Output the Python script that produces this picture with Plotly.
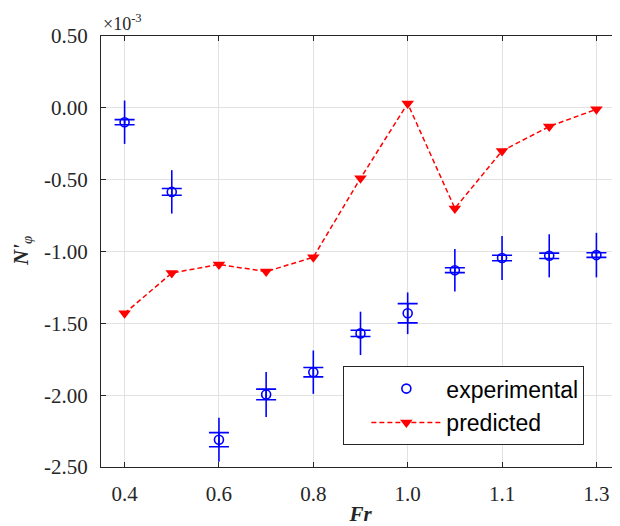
import plotly.graph_objects as go

# Data (N'_phi in units of 1e-3)
fr = ["0.4", "0.5", "0.6", "0.7", "0.8", "0.9", "1.0", "1.05", "1.1", "1.2", "1.3"]
exp_vals = [-0.10, -0.585, -2.31, -1.995, -1.84, -1.57, -1.43, -1.13, -1.045, -1.03, -1.025]
exp_err_small = [0.018, 0.023, 0.049, 0.037, 0.033, 0.022, 0.067, 0.017, 0.019, 0.019, 0.016]
exp_err_large = [0.151, 0.151, 0.153, 0.157, 0.151, 0.151, 0.145, 0.148, 0.153, 0.150, 0.155]
pred_vals = [-1.43, -1.15, -1.09, -1.14, -1.04, -0.49, 0.03, -0.70, -0.30, -0.13, -0.01]

x_tickvals = ["0.4", "0.6", "0.8", "1.0", "1.1", "1.3"]
y_tickvals = [-2.5, -2.0, -1.5, -1.0, -0.5, 0.0, 0.5]
y_ticktext = ["-2.50", "-2.00", "-1.50", "-1.00", "-0.50", "0.00", "0.50"]

BLUE = "rgb(0,0,255)"
RED = "rgb(255,0,0)"
AX = "rgb(38,38,38)"
SERIF = "Liberation Serif"

fig = go.Figure()

# large (uncapped) error bars
fig.add_trace(go.Scatter(
    x=fr, y=exp_vals, mode="markers",
    marker=dict(color="rgba(0,0,0,0)", size=1),
    error_y=dict(type="data", array=exp_err_large, symmetric=True,
                 color=BLUE, thickness=1.6, width=0),
    showlegend=False, hoverinfo="skip",
))

# experimental points with small capped error bars
fig.add_trace(go.Scatter(
    x=fr, y=exp_vals, mode="markers", name="experimental",
    legendgroup="a",
    marker=dict(symbol="circle-open", size=9, color=BLUE, line=dict(width=1.6, color=BLUE)),
    error_y=dict(type="data", array=exp_err_small, symmetric=True,
                 color=BLUE, thickness=1.6, width=10),
))

# predicted
fig.add_trace(go.Scatter(
    x=fr, y=pred_vals, mode="lines+markers", name="predicted",
    legendgroup="b",
    line=dict(color=RED, width=1.5, dash="5px,3px"),
    marker=dict(symbol="triangle-down", size=11, color=RED),
))

fig.update_layout(
    width=612, height=518,
    margin=dict(l=93, r=0, t=28, b=59, autoexpand=False),
    paper_bgcolor="white", plot_bgcolor="white",
    font=dict(family=SERIF, size=21, color=AX),
    showlegend=True,
    legend=dict(
        x=0.467, y=0.234, xanchor="left", yanchor="top",
        bgcolor="white", bordercolor=AX, borderwidth=1,
        font=dict(family="Liberation Sans", size=23, color="black"),
        itemwidth=70, indentation=22,
        entrywidth=150, entrywidthmode="pixels",
        traceorder="grouped", tracegroupgap=1,
    ),
    xaxis=dict(
        type="category", range=[-0.5, 10.5], automargin=False,
        tickmode="array", tickvals=x_tickvals, ticktext=x_tickvals,
        showgrid=True, gridcolor="rgb(226,226,226)", gridwidth=1,
        showline=True, linecolor=AX, linewidth=1, mirror="ticks",
        ticks="inside", ticklen=5, tickcolor=AX,
        ticklabelstandoff=8,
        title=dict(text="<b><i>Fr</i></b>", font=dict(family=SERIF, size=21, color=AX)),
        zeroline=False,
    ),
    yaxis=dict(
        range=[-2.5, 0.5], automargin=False,
        tickmode="array", tickvals=y_tickvals, ticktext=y_ticktext,
        showgrid=True, gridcolor="rgb(226,226,226)", gridwidth=1,
        showline=True, linecolor=AX, linewidth=1, mirror="ticks",
        ticks="inside", ticklen=5, tickcolor=AX,
        ticklabelstandoff=8,
        zeroline=False,
    ),
    annotations=[
        dict(
            text="×10<sup>-3</sup>", xref="paper", yref="paper", x=0.0, y=1.0,
            xanchor="left", yanchor="bottom", showarrow=False,
            font=dict(family=SERIF, size=18, color=AX),
        ),
        dict(
            text="<b><i>N'</i></b><sub><i>φ</i></sub>", xref="paper", yref="paper",
            x=-0.153, y=0.5, xanchor="center", yanchor="middle", textangle=-90,
            showarrow=False, font=dict(family=SERIF, size=21, color=AX),
        ),
    ],
)

fig.write_html("out.html")
